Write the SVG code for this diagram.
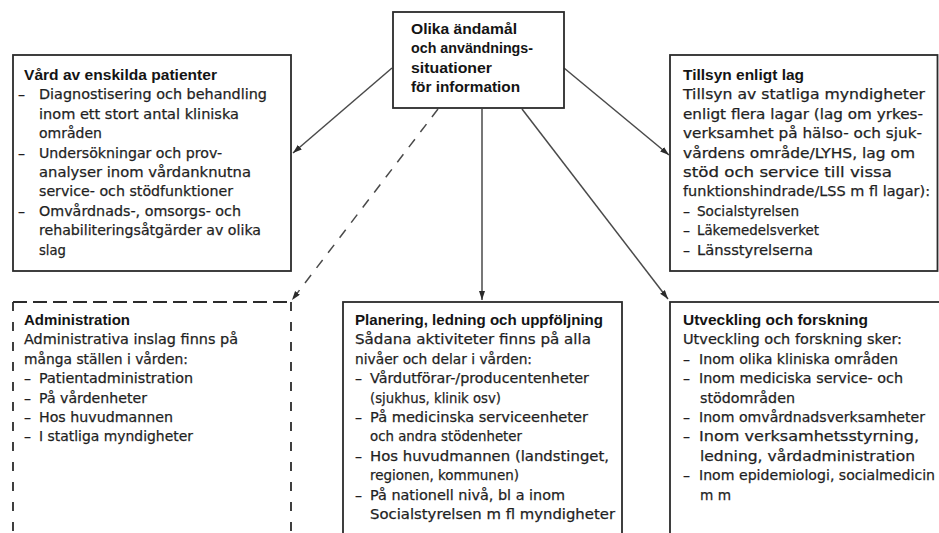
<svg xmlns="http://www.w3.org/2000/svg" width="939" height="533" viewBox="0 0 939 533">
  <defs>
    <style>
      .box{fill:none;stroke:#2b2b2b;stroke-width:1.8}
      .dash-h{fill:none;stroke:#2b2b2b;stroke-width:1.8;stroke-dasharray:14 6}
      .dash-v{fill:none;stroke:#2b2b2b;stroke-width:1.8;stroke-dasharray:9 11}
      .t{font-family:"DejaVu Sans","Liberation Sans",sans-serif;font-size:14px;fill:#1f1f1f;stroke:#1f1f1f;stroke-width:0.25}
      .h{font-family:"Liberation Sans",Arial,sans-serif;font-size:15px;font-weight:bold;fill:#141414}
      .c{fill:none;stroke:#4a4a4a;stroke-width:1.5}
      .cd{fill:none;stroke:#4a4a4a;stroke-width:1.5;stroke-dasharray:10 9}
    </style>
    <marker id="arrow" markerUnits="userSpaceOnUse" markerWidth="10" markerHeight="7" refX="9" refY="3" orient="auto">
      <path d="M0,0 L9,3 L0,6 z" fill="#2b2b2b"/>
    </marker>
  </defs>

  <rect width="939" height="533" fill="#ffffff"/>

  <!-- connectors -->
  <g id="connectors">
    <line class="c" x1="392" y1="68" x2="293" y2="153" marker-end="url(#arrow)"/>
    <line class="c" x1="564" y1="68" x2="669" y2="155" marker-end="url(#arrow)"/>
    <line class="cd" x1="438" y1="109" x2="292" y2="300" marker-end="url(#arrow)"/>
    <line class="c" x1="482" y1="109" x2="482" y2="300" marker-end="url(#arrow)"/>
    <line class="c" x1="522" y1="109" x2="668" y2="299" marker-end="url(#arrow)"/>
  </g>

  <!-- central node -->
  <g id="center">
    <rect class="box" x="393" y="12" width="171" height="96"/>
    <text class="h" x="411" y="34" textLength="106" lengthAdjust="spacingAndGlyphs">Olika ändamål</text>
    <text class="h" x="411" y="53.3" textLength="122" lengthAdjust="spacingAndGlyphs">och användnings-</text>
    <text class="h" x="411" y="72.6" textLength="81" lengthAdjust="spacingAndGlyphs">situationer</text>
    <text class="h" x="411" y="91.9" textLength="109" lengthAdjust="spacingAndGlyphs">för information</text>
  </g>

  <!-- care of individual patients -->
  <g id="vard">
    <rect class="box" x="13" y="55" width="278" height="216"/>
    <text class="h" x="24" y="80" textLength="193" lengthAdjust="spacingAndGlyphs">Vård av enskilda patienter</text>
    <text class="t" y="99.4"><tspan x="18">–</tspan><tspan x="39" textLength="228" lengthAdjust="spacingAndGlyphs">Diagnostisering och behandling</tspan></text>
    <text class="t" x="39" y="118.8" textLength="200" lengthAdjust="spacingAndGlyphs">inom ett stort antal kliniska</text>
    <text class="t" x="39" y="138.2" textLength="63" lengthAdjust="spacingAndGlyphs">områden</text>
    <text class="t" y="157.6"><tspan x="18">–</tspan><tspan x="39" textLength="183" lengthAdjust="spacingAndGlyphs">Undersökningar och prov-</tspan></text>
    <text class="t" x="39" y="177" textLength="212" lengthAdjust="spacingAndGlyphs">analyser inom vårdanknutna</text>
    <text class="t" x="39" y="196.4" textLength="194" lengthAdjust="spacingAndGlyphs">service- och stödfunktioner</text>
    <text class="t" y="215.8"><tspan x="18">–</tspan><tspan x="39" textLength="202" lengthAdjust="spacingAndGlyphs">Omvårdnads-, omsorgs- och</tspan></text>
    <text class="t" x="39" y="235.2" textLength="222" lengthAdjust="spacingAndGlyphs">rehabiliteringsåtgärder av olika</text>
    <text class="t" x="39" y="254.6" textLength="27" lengthAdjust="spacingAndGlyphs">slag</text>
  </g>

  <!-- supervision by law -->
  <g id="tillsyn">
    <rect class="box" x="670" y="55" width="267.5" height="216"/>
    <text class="h" x="683" y="80" textLength="121" lengthAdjust="spacingAndGlyphs">Tillsyn enligt lag</text>
    <text class="t" x="683" y="99.4" textLength="242" lengthAdjust="spacingAndGlyphs">Tillsyn av statliga myndigheter</text>
    <text class="t" x="683" y="118.8" textLength="240" lengthAdjust="spacingAndGlyphs">enligt flera lagar (lag om yrkes-</text>
    <text class="t" x="683" y="138.2" textLength="239" lengthAdjust="spacingAndGlyphs">verksamhet på hälso- och sjuk-</text>
    <text class="t" x="683" y="157.6" textLength="232" lengthAdjust="spacingAndGlyphs">vårdens område/LYHS, lag om</text>
    <text class="t" x="683" y="177" textLength="209" lengthAdjust="spacingAndGlyphs">stöd och service till vissa</text>
    <text class="t" x="683" y="196.4" textLength="247" lengthAdjust="spacingAndGlyphs">funktionshindrade/LSS m fl lagar):</text>
    <text class="t" y="215.8"><tspan x="683">–</tspan><tspan x="697" textLength="102" lengthAdjust="spacingAndGlyphs">Socialstyrelsen</tspan></text>
    <text class="t" y="235.2"><tspan x="683">–</tspan><tspan x="697" textLength="122" lengthAdjust="spacingAndGlyphs">Läkemedelsverket</tspan></text>
    <text class="t" y="254.6"><tspan x="683">–</tspan><tspan x="697" textLength="116" lengthAdjust="spacingAndGlyphs">Länsstyrelserna</tspan></text>
  </g>

  <!-- administration (dashed) -->
  <g id="administration">
    <line class="dash-h" x1="13" y1="302" x2="291" y2="302"/>
    <line class="dash-v" x1="13" y1="302" x2="13" y2="545"/>
    <line class="dash-v" x1="291" y1="302" x2="291" y2="545"/>
    <text class="h" x="24" y="325" textLength="106" lengthAdjust="spacingAndGlyphs">Administration</text>
    <text class="t" x="24" y="344.4" textLength="214" lengthAdjust="spacingAndGlyphs">Administrativa inslag finns på</text>
    <text class="t" x="24" y="363.8" textLength="164" lengthAdjust="spacingAndGlyphs">många ställen i vården:</text>
    <text class="t" y="383.2"><tspan x="24">–</tspan><tspan x="39" textLength="154" lengthAdjust="spacingAndGlyphs">Patientadministration</tspan></text>
    <text class="t" y="402.6"><tspan x="24">–</tspan><tspan x="39" textLength="108" lengthAdjust="spacingAndGlyphs">På vårdenheter</tspan></text>
    <text class="t" y="422"><tspan x="24">–</tspan><tspan x="39" textLength="134" lengthAdjust="spacingAndGlyphs">Hos huvudmannen</tspan></text>
    <text class="t" y="441.4"><tspan x="24">–</tspan><tspan x="39" textLength="154" lengthAdjust="spacingAndGlyphs">I statliga myndigheter</tspan></text>
  </g>

  <!-- planning, management and follow-up -->
  <g id="planering">
    <rect class="box" x="343" y="302" width="279" height="250"/>
    <text class="h" x="355" y="325" textLength="248" lengthAdjust="spacingAndGlyphs">Planering, ledning och uppföljning</text>
    <text class="t" x="355" y="344.4" textLength="236" lengthAdjust="spacingAndGlyphs">Sådana aktiviteter finns på alla</text>
    <text class="t" x="355" y="363.8" textLength="177" lengthAdjust="spacingAndGlyphs">nivåer och delar i vården:</text>
    <text class="t" y="383.2"><tspan x="355">–</tspan><tspan x="370" textLength="219" lengthAdjust="spacingAndGlyphs">Vårdutförar-/producentenheter</tspan></text>
    <text class="t" x="370" y="402.6" textLength="131" lengthAdjust="spacingAndGlyphs">(sjukhus, klinik osv)</text>
    <text class="t" y="422"><tspan x="355">–</tspan><tspan x="370" textLength="218" lengthAdjust="spacingAndGlyphs">På medicinska serviceenheter</tspan></text>
    <text class="t" x="370" y="441.4" textLength="152" lengthAdjust="spacingAndGlyphs">och andra stödenheter</text>
    <text class="t" y="460.8"><tspan x="355">–</tspan><tspan x="370" textLength="239" lengthAdjust="spacingAndGlyphs">Hos huvudmannen (landstinget,</tspan></text>
    <text class="t" x="370" y="480.2" textLength="149" lengthAdjust="spacingAndGlyphs">regionen, kommunen)</text>
    <text class="t" y="499.6"><tspan x="355">–</tspan><tspan x="370" textLength="195" lengthAdjust="spacingAndGlyphs">På nationell nivå, bl a inom</tspan></text>
    <text class="t" x="370" y="519" textLength="245" lengthAdjust="spacingAndGlyphs">Socialstyrelsen m fl myndigheter</text>
  </g>

  <!-- development and research -->
  <g id="utveckling">
    <rect class="box" x="670" y="302" width="290" height="250"/>
    <text class="h" x="683" y="325" textLength="185" lengthAdjust="spacingAndGlyphs">Utveckling och forskning</text>
    <text class="t" x="683" y="344.4" textLength="219" lengthAdjust="spacingAndGlyphs">Utveckling och forskning sker:</text>
    <text class="t" y="363.8"><tspan x="683">–</tspan><tspan x="699" textLength="199" lengthAdjust="spacingAndGlyphs">Inom olika kliniska områden</tspan></text>
    <text class="t" y="383.2"><tspan x="683">–</tspan><tspan x="699" textLength="204" lengthAdjust="spacingAndGlyphs">Inom mediciska service- och</tspan></text>
    <text class="t" x="700" y="402.6" textLength="95" lengthAdjust="spacingAndGlyphs">stödområden</text>
    <text class="t" y="422"><tspan x="683">–</tspan><tspan x="699" textLength="226" lengthAdjust="spacingAndGlyphs">Inom omvårdnadsverksamheter</tspan></text>
    <text class="t" y="441.4"><tspan x="683">–</tspan><tspan x="699" textLength="220" lengthAdjust="spacingAndGlyphs">Inom verksamhetsstyrning,</tspan></text>
    <text class="t" x="700" y="460.8" textLength="215" lengthAdjust="spacingAndGlyphs">ledning, vårdadministration</text>
    <text class="t" y="480.2"><tspan x="683">–</tspan><tspan x="699" textLength="236" lengthAdjust="spacingAndGlyphs">Inom epidemiologi, socialmedicin</tspan></text>
    <text class="t" x="700" y="499.6" textLength="31" lengthAdjust="spacingAndGlyphs">m m</text>
  </g>
</svg>
